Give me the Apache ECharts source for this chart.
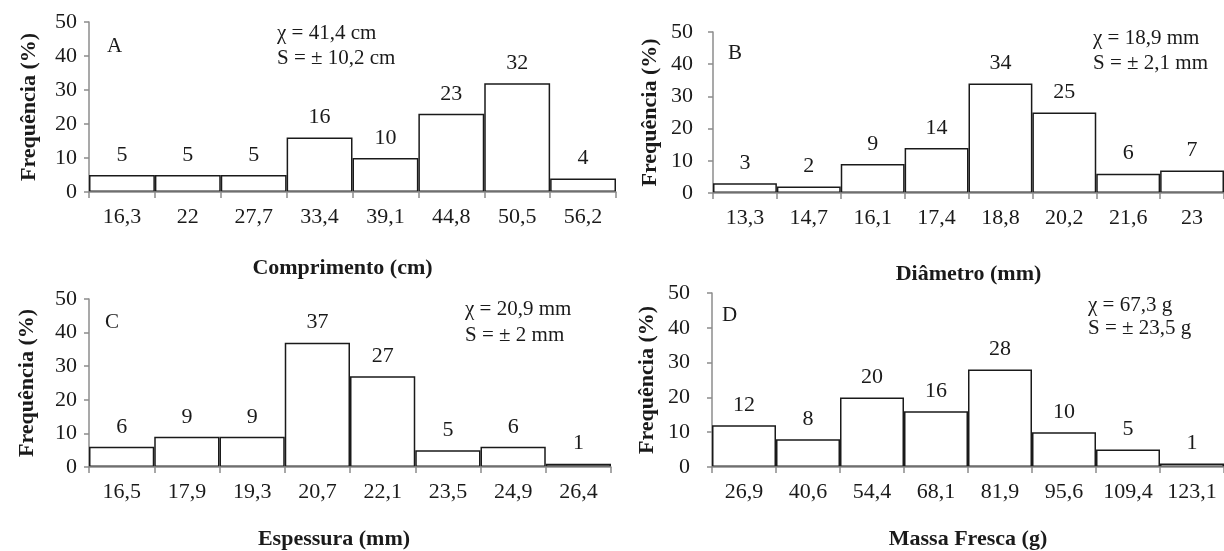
<!DOCTYPE html>
<html><head><meta charset="utf-8">
<script src="https://cdn.jsdelivr.net/npm/echarts@6/dist/echarts.min.js"></script>
<style>html,body{margin:0;padding:0;background:#fff}#c{width:1224px;height:551px}</style>
</head><body><div id="c"></div>
<script>
// ---- data ----
const catsA = ['16,3','22','27,7','33,4','39,1','44,8','50,5','56,2'];
const valsA = [5,5,5,16,10,23,32,4];
const catsB = ['13,3','14,7','16,1','17,4','18,8','20,2','21,6','23'];
const valsB = [3,2,9,14,34,25,6,7];
const catsC = ['16,5','17,9','19,3','20,7','22,1','23,5','24,9','26,4'];
const valsC = [6,9,9,37,27,5,6,1];
const catsD = ['26,9','40,6','54,4','68,1','81,9','95,6','109,4','123,1'];
const valsD = [12,8,20,16,28,10,5,1];
const xNames = ['Comprimento (cm)','Diâmetro (mm)','Espessura (mm)','Massa Fresca (g)'];
const yName = 'Frequência (%)';
const yMin = 0, yMax = 50, yStep = 10;
const panelLetters = ['A','B','C','D'];
const statMean = ['χ = 41,4 cm','χ = 18,9 mm','χ = 20,9 mm','χ = 67,3 g'];
const statSd = ['S = ± 10,2 cm','S = ± 2,1 mm','S = ± 2 mm','S = ± 23,5 g'];

// ---- layout ----
const FONT = 'Liberation Serif';
const INK = '#1a1a1a';
const AXIS = '#8c8c8c';
const layout = [
  {grid:{left:89, top:22, width:527, height:170}, yLabM:12, yGap:49, xGap:65, xPad:[0,20,0,0],
   letter:[107,46], stats:[277,33,58]},
  {grid:{left:713, top:32, width:518, height:161}, yLabM:20, yGap:52, xGap:70, xPad:[0,0,0,0],
   letter:[728,53], stats:[1093,38,63]},
  {grid:{left:89, top:299, width:522, height:170}, yLabM:12, yGap:51, xGap:61, xPad:[0,32,0,0],
   letter:[105,322], stats:[465,309,335]},
  {grid:{left:712, top:293, width:515, height:174}, yLabM:22, yGap:54, xGap:61, xPad:[0,0,0,0],
   letter:[722,315], stats:[1088,305,328]}
];
const cats = [catsA, catsB, catsC, catsD];
const vals = [valsA, valsB, valsC, valsD];

const grids = [], xAxes = [], yAxes = [], series = [], graphics = [];
layout.forEach((L, i) => {
  grids.push(Object.assign({containLabel:false}, L.grid));
  xAxes.push({
    type:'category', gridIndex:i, data:cats[i], boundaryGap:true, z:5,
    axisLine:{lineStyle:{color:AXIS, width:1.5}},
    axisTick:{show:true, length:6, lineStyle:{color:AXIS, width:1.5}},
    axisLabel:{fontFamily:FONT, fontSize:22, color:INK, margin:14, interval:0},
    name:xNames[i], nameLocation:'middle', nameGap:L.xGap,
    nameTextStyle:{fontFamily:FONT, fontSize:22, fontWeight:'bold', color:INK, padding:L.xPad, verticalAlign:'top'}
  });
  yAxes.push({
    type:'value', gridIndex:i, min:yMin, max:yMax, interval:yStep,
    splitLine:{show:false},
    axisLine:{show:true, lineStyle:{color:AXIS, width:1.5}},
    axisTick:{show:true, length:5, lineStyle:{color:AXIS, width:1.5}},
    axisLabel:{fontFamily:FONT, fontSize:22, color:INK, margin:L.yLabM},
    name:yName, nameLocation:'middle', nameGap:L.yGap,
    nameTextStyle:{fontFamily:FONT, fontSize:22, fontWeight:'bold', color:INK}
  });
  series.push({
    type:'bar', xAxisIndex:i, yAxisIndex:i, data:vals[i], barCategoryGap:'0%',
    itemStyle:{color:'#ffffff', borderColor:INK, borderWidth:1.5},
    label:{show:true, position:'top', distance:9, fontFamily:FONT, fontSize:22, color:INK},
    silent:true
  });
  graphics.push({type:'text', x:L.letter[0], y:L.letter[1],
    style:{text:panelLetters[i], font:'21px "'+FONT+'"', fill:INK, verticalAlign:'middle'}});
  graphics.push({type:'text', x:L.stats[0], y:L.stats[1],
    style:{text:statMean[i], font:'21px "'+FONT+'"', fill:INK, verticalAlign:'middle'}});
  graphics.push({type:'text', x:L.stats[0], y:L.stats[2],
    style:{text:statSd[i], font:'21px "'+FONT+'"', fill:INK, verticalAlign:'middle'}});
});

const chart = echarts.init(document.getElementById('c'), null, {renderer:'canvas'});
chart.setOption({
  animation:false,
  backgroundColor:'#ffffff',
  grid:grids, xAxis:xAxes, yAxis:yAxes, series:series, graphic:graphics
});
</script>
</body></html>
